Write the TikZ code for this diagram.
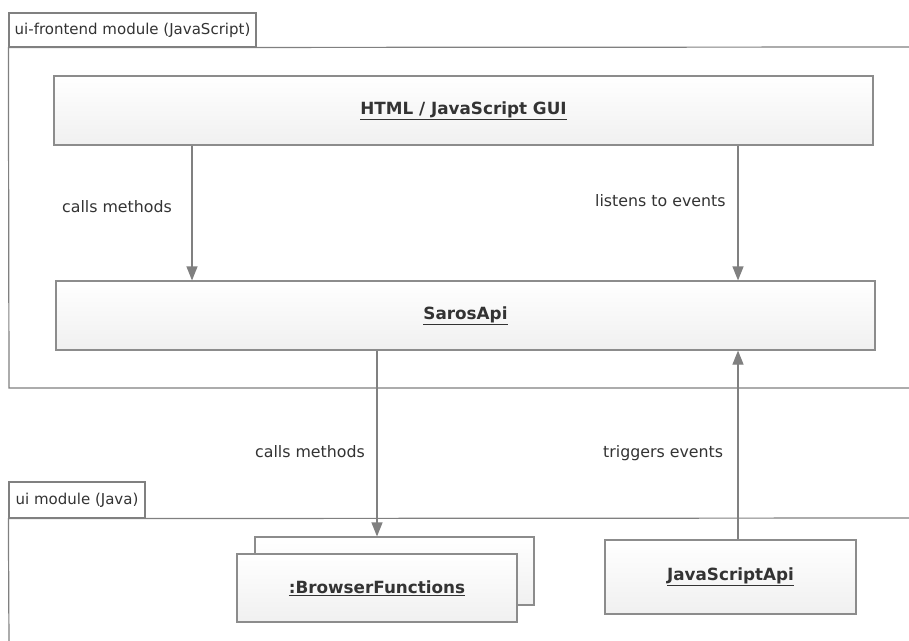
\documentclass[tikz,border=0pt]{standalone}
\usepackage{fontspec}
\setmainfont{DejaVu Sans}
\usetikzlibrary{arrows.meta}
\definecolor{linec}{HTML}{808080}
\definecolor{boxc}{HTML}{8C8C8C}
\definecolor{boxbot}{HTML}{F0F0F0}
\definecolor{txt}{HTML}{333333}
\begin{document}
\begin{tikzpicture}[x=1pt,y=-1pt,
  box/.style={draw=boxc, line width=1.2pt, top color=white, bottom color=boxbot,
    font=\bfseries\fontsize{16.8}{20}\selectfont, text=txt, inner sep=0pt},
  tab/.style={draw=linec, line width=1.2pt, fill=white, inner sep=0pt,
    font=\fontsize{15}{18}\selectfont, text=txt},
  lbl/.style={font=\fontsize{15.8}{18}\selectfont, text=txt, anchor=base west, inner sep=0pt},
  conn/.style={draw=linec, line width=1.2pt},
  arr/.style={conn, -{Triangle[width=11pt,length=14pt]}}]
\useasboundingbox (0,0) rectangle (909,640);
\fill[white] (0,0) rectangle (909,640);

% frames
\node[tab, minimum width=247pt, minimum height=34pt] (tab1) at (132.5,30) {ui-frontend module (JavaScript)};
\coordinate (f1tr) at (909,47);
\coordinate (f1bl) at (9,388);
\coordinate (f1br) at (909,388);
\draw[conn] (f1tr) -- (tab1.south west) -- (f1bl) -- (f1br);

\node[tab, minimum width=136pt, minimum height=36pt] (tab2) at (77,500) {ui module (Java)};
\coordinate (f2tr) at (909,518);
\coordinate (f2bl) at (9,645);
\draw[conn] (f2tr) -- (tab2.south west) -- (f2bl);

% boxes
\node[box, minimum width=819pt, minimum height=69pt] (gui) at (463.5,110.5) {\underline{HTML / JavaScript GUI}};
\node[box, minimum width=819pt, minimum height=69pt] (saros) at (465.5,315.5) {\underline{SarosApi}};
\node[box, minimum width=279pt, minimum height=68pt] (bfback) at (394.5,571) {};
\node[box, minimum width=280pt, minimum height=68pt] (bf) at (377,588) {\underline{:BrowserFunctions}};
\node[box, minimum width=251pt, minimum height=74pt] (jsapi) at (730.5,577) {\underline{JavaScriptApi}};

% connector x positions
\coordinate (xl) at (192,0);
\coordinate (xr) at (738,0);
\coordinate (xm) at (377,0);

\draw[arr] (gui.south -| xl) -- (saros.north -| xl);
\draw[arr] (gui.south -| xr) -- (saros.north -| xr);
\draw[arr] (saros.south -| xm) -- (bfback.north -| xm);
\draw[arr] (jsapi.north -| xr) -- (saros.south -| xr);

% labels
\node[lbl] (l1) at (62,212) {calls methods};
\node[lbl] (l2) at (595,206) {listens to events};
\node[lbl] (l3) at (255,457) {calls methods};
\node[lbl] (l4) at (603,457) {triggers events};
\end{tikzpicture}
\end{document}
